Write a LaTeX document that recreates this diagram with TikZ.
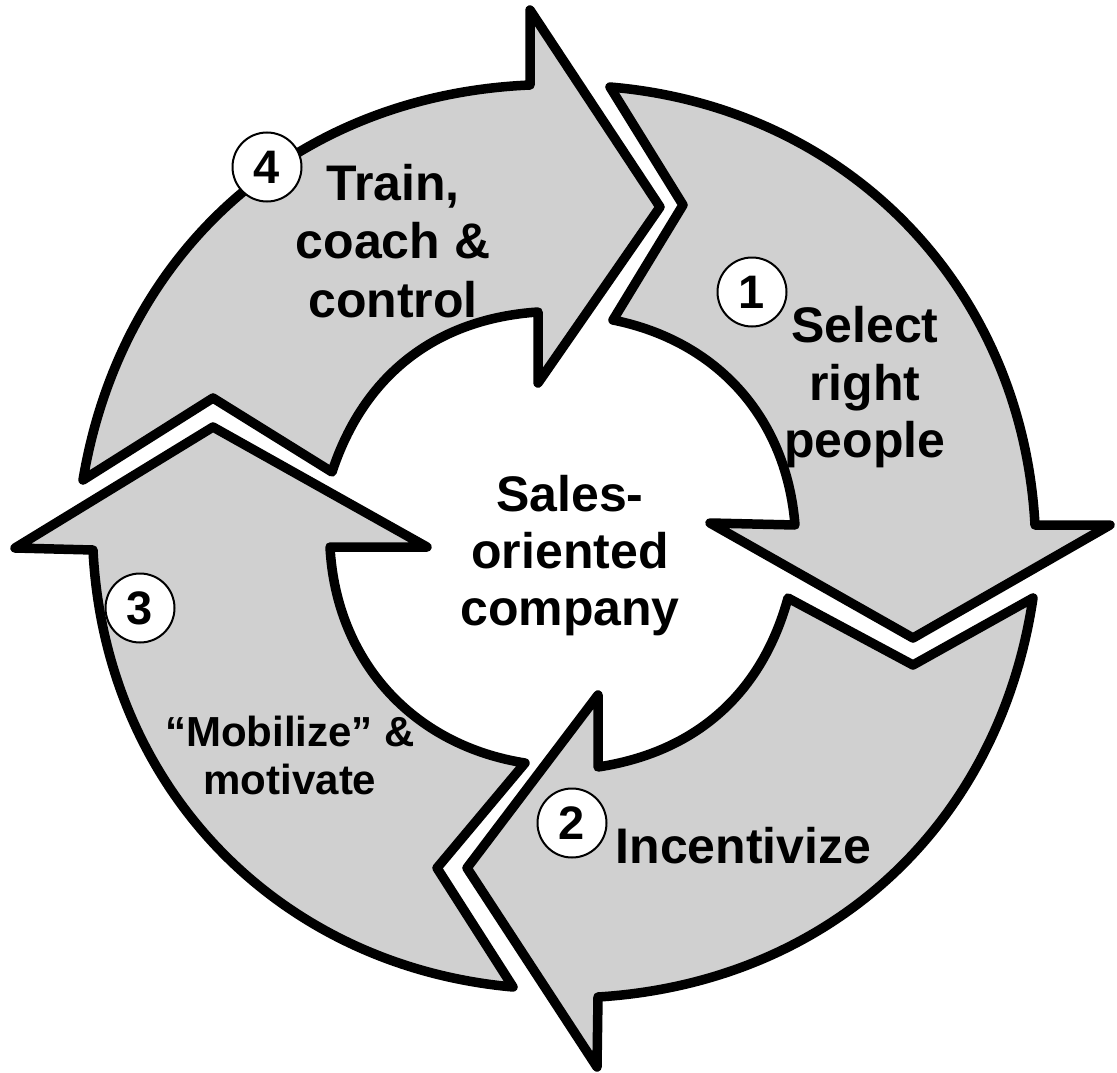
\documentclass[tikz,border=0pt]{standalone}
\usepackage{fontspec}
\setmainfont{Liberation Sans}
\definecolor{segfill}{RGB}{208,208,208}
\tikzset{
  seg/.style={fill=segfill, draw=black, line width=9.5pt, line join=round},
  lbl/.style={font=\bfseries\fontsize{50}{57.5}\selectfont, anchor=base, inner sep=0pt},
  lblsmall/.style={font=\bfseries\fontsize{42}{48}\selectfont, anchor=base, inner sep=0pt},
  num/.style={circle, draw=black, fill=white, line width=2pt, minimum size=69pt, inner sep=0pt, font=\bfseries\fontsize{47}{50}\selectfont}
}
\begin{document}
\begin{tikzpicture}[x=1pt,y=1pt]
\useasboundingbox (0,0) rectangle (1117,-1073);
% segment 1 (right)
\draw[seg] (610,-87) to[bend left=41] (1035,-525) -- (1110,-525) -- (913,-638) -- (710,-523) -- (795,-525)
  to[bend right=37] (613,-320) -- (683,-205) -- cycle;
% segment 2 (bottom)
\draw[seg] (1033,-598) to[bend left=39] (598,-997) -- (597,-1067) -- (467,-868) -- (598,-695) -- (598,-767)
  to[bend right=33] (788,-598) -- (913,-665) -- cycle;
% segment 3 (left)
\draw[seg] (513,-987) to[bend left=41] (93,-550) -- (15,-548) -- (213,-427) -- (427,-547) -- (330,-547)
  to[bend right=39] (525,-763) -- (437,-868) -- cycle;
% segment 4 (top)
\draw[seg] (83,-480) to[bend left=39] (530,-85) -- (530,-10) -- (660,-207) -- (538,-383) -- (538,-312)
  to[bend right=34] (332,-472) -- (213,-398) -- cycle;
% centre text
\node[lbl] (c1) at (570,-511) {Sales-};
\node[lbl] (c2) at (570,-568) {oriented};
\node[lbl] (c3) at (570,-625) {company};
% segment texts
\node[lbl] (s1a) at (865,-342) {Select};
\node[lbl] (s1b) at (865,-400) {right};
\node[lbl] (s1c) at (865,-457) {people};
\node[lbl] (s2a) at (743.5,-863) {Incentivize};
\node[lblsmall] (s3a) at (290,-746) {“Mobilize” \&};
\node[lblsmall] (s3b) at (290,-794) {motivate};
\node[lbl] (s4a) at (393,-200) {Train,};
\node[lbl] (s4b) at (393,-258) {coach \&};
\node[lbl] (s4c) at (393,-317) {control};
% numbers
\node[num] (n1) at (752,-292) {1};
\node[num] (n2) at (572,-823) {2};
\node[num] (n3) at (140,-608) {3};
\node[num] (n4) at (267,-167) {4};
\end{tikzpicture}
\end{document}
